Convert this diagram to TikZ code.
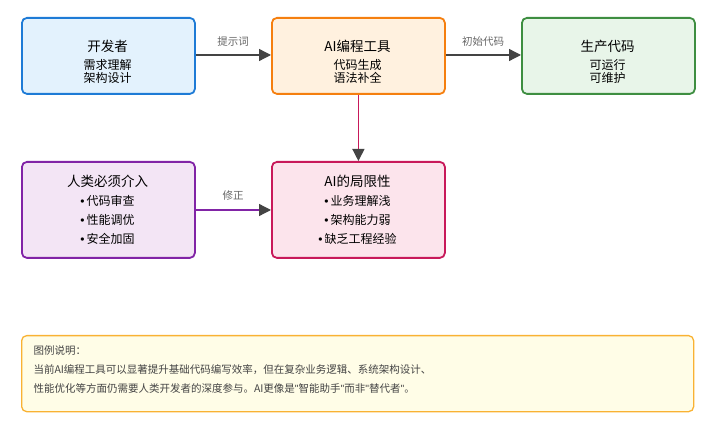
\documentclass[tikz,border=0pt]{standalone}
\usepackage{fontspec}
\setmainfont{Noto Sans CJK SC}
\newfontfamily\latinq{Liberation Sans}
\usetikzlibrary{arrows.meta}
\definecolor{bluefill}{HTML}{E3F2FD}\definecolor{blueline}{HTML}{1E7BD6}
\definecolor{orfill}{HTML}{FFF1DF}\definecolor{orline}{HTML}{F57F0F}
\definecolor{grfill}{HTML}{E8F5E9}\definecolor{grline}{HTML}{3E8E41}
\definecolor{pufill}{HTML}{F3E5F5}\definecolor{puline}{HTML}{8124A6}
\definecolor{pkfill}{HTML}{FCE4EC}\definecolor{pkline}{HTML}{C8195A}
\definecolor{yefill}{HTML}{FFFDE7}\definecolor{yeline}{HTML}{F9B233}
\definecolor{arrowgray}{HTML}{444444}
\definecolor{labelgray}{HTML}{666666}
\newcommand{\bul}{{\latinq •}\hspace{2pt}}
\newcommand{\qq}{{\latinq "}}
\tikzset{
  x=1pt,y=-1pt,
  card/.style={draw, line width=1.8pt, rounded corners=5pt, minimum width=173pt, anchor=north west, inner sep=0pt},
  title/.style={font=\fontsize{13.5}{15}\selectfont, text=black},
  sub/.style={font=\fontsize{12}{14}\selectfont, text=black},
  edgelabel/.style={font=\fontsize{10.5}{12}\selectfont, text=labelgray},
  legtext/.style={font=\fontsize{10.5}{12}\selectfont, text=arrowgray, anchor=west},
  conn/.style={line width=1.3pt, -{Triangle[length=12pt,width=12pt,fill=arrowgray,color=arrowgray]}},
}
\begin{document}
\begin{tikzpicture}
\useasboundingbox (0,0) rectangle (715,430);
% boxes
\node[card, fill=bluefill, draw=blueline, minimum height=76pt] (dev) at (21,17) {};
\node[card, fill=orfill, draw=orline, minimum height=76pt] (tool) at (271,17) {};
\node[card, fill=grfill, draw=grline, minimum height=76pt] (prod) at (521,17) {};
\node[card, fill=pufill, draw=puline, minimum height=96pt] (human) at (21,161) {};
\node[card, fill=pkfill, draw=pkline, minimum height=96pt] (limit) at (271,161) {};
\node[draw=yeline, fill=yefill, line width=1.3pt, rounded corners=5pt, minimum width=672pt, minimum height=76pt, anchor=north west, inner sep=0pt] (legend) at (21,335) {};
% texts
\node[title] (devT) at (107.5,46) {开发者};
\node[sub] (devA) at (107.5,65) {需求理解};
\node[sub] (devB) at (107.5,78) {架构设计};
\node[title] (toolT) at (357.5,46) {AI编程工具};
\node[sub] (toolA) at (357.5,65) {代码生成};
\node[sub] (toolB) at (357.5,78) {语法补全};
\node[title] (prodT) at (607.5,46) {生产代码};
\node[sub] (prodA) at (607.5,65) {可运行};
\node[sub] (prodB) at (607.5,78) {可维护};
\node[title] (humT) at (107.5,181) {人类必须介入};
\node[sub] (humA) at (107.5,201) {\bul 代码审查};
\node[sub] (humB) at (107.5,220) {\bul 性能调优};
\node[sub] (humC) at (107.5,239) {\bul 安全加固};
\node[title] (limT) at (357.5,181) {AI的局限性};
\node[sub] (limA) at (357.5,201) {\bul 业务理解浅};
\node[sub] (limB) at (357.5,220) {\bul 架构能力弱};
\node[sub] (limC) at (357.5,239) {\bul 缺乏工程经验};
\node[legtext] (legT) at (30,351) {图例说明：};
\node[legtext] (legA) at (30,370) {当前AI编程工具可以显著提升基础代码编写效率，但在复杂业务逻辑、系统架构设计、};
\node[legtext] (legB) at (30,388) {性能优化等方面仍需要人类开发者的深度参与。AI更像是\qq 智能助手\qq 而非\qq 替代者\qq 。};
% connectors
\draw[conn, draw=arrowgray] (dev.east |- 0,55) -- (tool.west |- 0,55);
\node[edgelabel] (l1) at (233,42) {提示词};
\draw[conn, draw=arrowgray] (tool.east |- 0,55) -- (prod.west |- 0,55);
\node[edgelabel] (l2) at (483,42) {初始代码};
\draw[conn, draw=pkline] (tool.south) -- (limit.north);
\draw[conn, draw=puline] (human.east |- 0,210) -- (limit.west |- 0,210);
\node[edgelabel] (l3) at (233,196) {修正};
\end{tikzpicture}
\end{document}
